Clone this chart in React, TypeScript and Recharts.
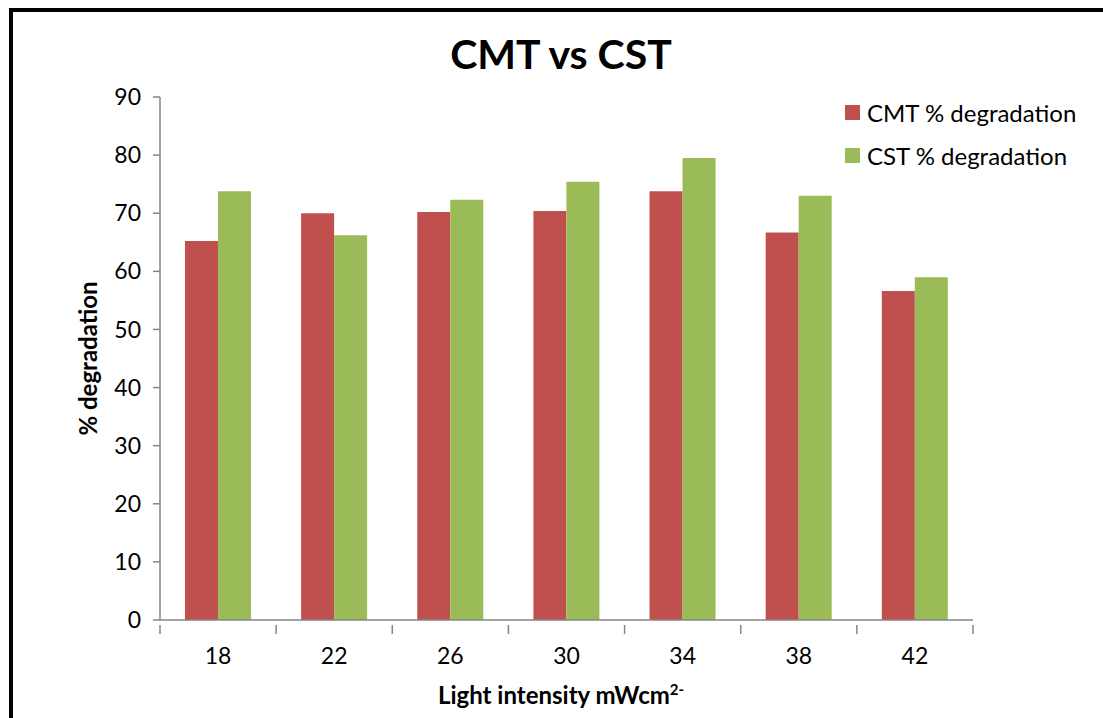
import { BarChart, Bar, XAxis, YAxis, Legend } from 'recharts';

const intensities = ['18', '22', '26', '30', '34', '38', '42'];
const cmtDegradation = [65.2, 70.0, 70.2, 70.4, 73.8, 66.7, 56.6];
const cstDegradation = [73.8, 66.2, 72.3, 75.4, 79.5, 73.0, 59.0];
const yTicks = [0, 10, 20, 30, 40, 50, 60, 70, 80, 90];

const FONT = 'Lato, "Open Sans", sans-serif';
const AXIS_GREY = '#868686';

const WIDTH = 1103;
const HEIGHT = 718;
const MARGIN = { top: 97, right: 130, bottom: 58, left: 80 };
const Y_AXIS_WIDTH = 80;
const PLOT_WIDTH = WIDTH - MARGIN.left - MARGIN.right - Y_AXIS_WIDTH;

const data = intensities.map((x, i) => ({
  x,
  cmt: cmtDegradation[i],
  cst: cstDegradation[i],
}));

// category label plus Excel-style tick marks on the category boundaries
function CategoryTick({ x, y, payload, index }: any) {
  const half = PLOT_WIDTH / intensities.length / 2;
  const last = index === intensities.length - 1;
  return (
    <g>
      <line x1={x - half} y1={y - 1} x2={x - half} y2={y + 8} stroke={AXIS_GREY} strokeWidth={1.5} />
      {last && <line x1={x + half} y1={y - 1} x2={x + half} y2={y + 8} stroke={AXIS_GREY} strokeWidth={1.5} />}
      <text x={x} y={y + 38} textAnchor="middle" fill="#000" fontSize={23} fontFamily={FONT}>
        {payload.value}
      </text>
    </g>
  );
}

function LegendBox({ payload }: any) {
  return (
    <div style={{ fontFamily: FONT, fontSize: 24, color: '#000' }}>
      {(payload || []).map((item: any) => (
        <div key={item.value} style={{ display: 'flex', alignItems: 'center', height: 43 }}>
          <span
            style={{ width: 15, height: 15, background: item.color, marginRight: 7, display: 'inline-block' }}
          />
          {item.value}
        </div>
      ))}
    </div>
  );
}

export default function App() {
  return (
    <div
      style={{
        position: 'absolute',
        left: 0,
        top: 0,
        width: WIDTH,
        height: HEIGHT,
        background: '#fff',
        overflow: 'hidden',
        fontFamily: FONT,
      }}
    >
      <div
        style={{
          position: 'absolute',
          left: 9,
          top: 8,
          width: 1200,
          height: 800,
          borderTop: '4px solid #000',
          borderLeft: '4px solid #000',
        }}
      />
      <div
        style={{
          position: 'absolute',
          left: 0,
          width: 1122,
          top: 29,
          textAlign: 'center',
          fontSize: 41,
          fontWeight: 700,
          color: '#000',
        }}
      >
        CMT vs CST
      </div>
      <div style={{ position: 'absolute', left: 0, top: 0 }}>
        <BarChart
          width={WIDTH}
          height={HEIGHT}
          data={data}
          margin={MARGIN}
          barCategoryGap="21.5%"
          barGap={0}
        >
          <XAxis
            dataKey="x"
            height={40}
            tickLine={false}
            axisLine={{ stroke: AXIS_GREY, strokeWidth: 1.5 }}
            tickMargin={0}
            interval={0}
            tick={<CategoryTick />}
          />
          <YAxis
            domain={[0, 90]}
            ticks={yTicks}
            width={Y_AXIS_WIDTH}
            tickSize={7}
            tickMargin={12}
            axisLine={{ stroke: AXIS_GREY, strokeWidth: 1.5 }}
            tickLine={{ stroke: AXIS_GREY, strokeWidth: 1.5 }}
            tick={{ fill: '#000', fontSize: 23, fontFamily: FONT }}
            label={{
              value: '% degradation',
              angle: -90,
              position: 'center',
              dx: -32,
              style: { fill: '#000', fontSize: 24, fontWeight: 700, fontFamily: FONT },
            }}
          />
          <Legend
            verticalAlign="middle"
            align="center"
            layout="horizontal"
            wrapperStyle={{ top: 91, left: 845, width: 258 }}
            content={<LegendBox />}
          />
          <Bar dataKey="cmt" name="CMT % degradation" fill="#C0504D" isAnimationActive={false} />
          <Bar dataKey="cst" name="CST % degradation" fill="#9BBB59" isAnimationActive={false} />
        </BarChart>
      </div>
      <div
        style={{
          position: 'absolute',
          left: 438,
          top: 680,
          fontSize: 24,
          fontWeight: 700,
          color: '#000',
          whiteSpace: 'nowrap',
        }}
      >
        Light intensity mWcm<sup style={{ fontSize: 15 }}>2-</sup>
      </div>
    </div>
  );
}
